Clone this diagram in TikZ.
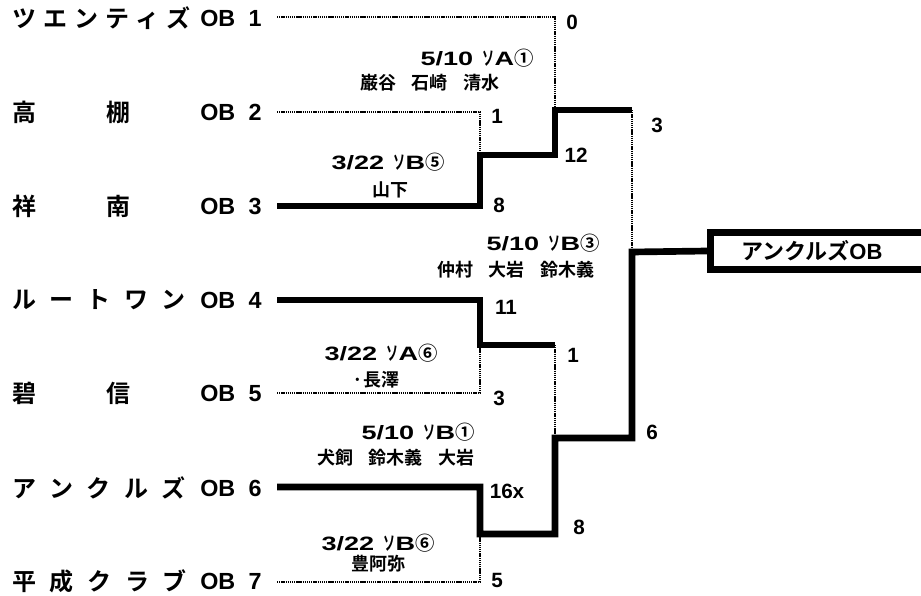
\documentclass[tikz,border=0pt]{standalone}
\usepackage{fontspec}
\usepackage{graphicx}
\setmainfont{Liberation Sans}
\newfontfamily\jp{Noto Sans CJK JP Bold}
\newfontfamily\lat{Liberation Sans}[UprightFont={* Bold}]
\newfontfamily\widelat{Liberation Sans}[UprightFont={* Bold}, FakeStretch=1.4]
\usetikzlibrary{positioning,calc}

\newcommand{\spreadname}[2]{\makebox[#1][s]{#2}}
\newcommand{\gamelabel}[3]{{\widelat #1}\hspace{7pt}\scalebox{0.62}[1]{\jp ソ}{\widelat #2}{\jp #3}}

\begin{document}
\begin{tikzpicture}[
    x=0.75pt, y=-0.75pt,
    team/.style={anchor=west, inner sep=0pt, font=\jp\fontsize{18}{18}\selectfont},
    ob/.style={anchor=west, inner sep=0pt, font=\lat\fontsize{17.5}{17.5}\selectfont},
    score/.style={inner sep=0pt, font=\lat\fontsize{15.5}{15.5}\selectfont},
    game/.style={inner sep=0pt, font=\fontsize{14.5}{14.5}\selectfont},
    players/.style={inner sep=0pt, font=\jp\fontsize{13.5}{13.5}\selectfont},
    win/.style={line width=5pt},
    lose/.style={line width=2pt, dash pattern=on 1pt off 0.6pt},
    champbox/.style={draw, line width=5pt, anchor=west, minimum height=28pt, inner xsep=23pt, text width=200pt, align=left, font=\fontsize{16.5}{16.5}\selectfont}
]
\useasboundingbox (0,0) rectangle (921,596);
\clip (0,0) rectangle (921,596);

% Teams
\node[team] (n1) at (12,18) {\spreadname{134pt}{ツ\hfill エ\hfill ン\hfill テ\hfill ィ\hfill ズ}};
\node[team] (n2) at (12,112) {\spreadname{89pt}{高\hfill 棚}};
\node[team] (n3) at (12,206) {\spreadname{89pt}{祥\hfill 南}};
\node[team] (n4) at (12,300) {\spreadname{130pt}{ル\hfill ー\hfill ト\hfill ワ\hfill ン}};
\node[team] (n5) at (12,393) {\spreadname{89pt}{碧\hfill 信}};
\node[team] (n6) at (12,488) {\spreadname{130pt}{ア\hfill ン\hfill ク\hfill ル\hfill ズ}};
\node[team] (n7) at (12,581) {\spreadname{131pt}{平\hfill 成\hfill ク\hfill ラ\hfill ブ}};

\node[ob] (ob1) at (200,18) {OB\hspace{10pt}1};
\node[ob] (ob2) at (200,112) {OB\hspace{10pt}2};
\node[ob] (ob3) at (200,206) {OB\hspace{10pt}3};
\node[ob] (ob4) at (200,300) {OB\hspace{10pt}4};
\node[ob] (ob5) at (200,393) {OB\hspace{10pt}5};
\node[ob] (ob6) at (200,488) {OB\hspace{10pt}6};
\node[ob] (ob7) at (200,581) {OB\hspace{10pt}7};

% Line starts and junctions
\coordinate (s1) at (277,17);
\coordinate (s2) at (277,112);
\coordinate (s3) at (277,206);
\coordinate (s4) at (277,300);
\coordinate (s5) at (277,393);
\coordinate (s6) at (277,487);
\coordinate (s7) at (277,582);
\coordinate (g23) at (480,155);
\coordinate (g45) at (480,345);
\coordinate (g67) at (480,534);
\coordinate (g1x) at (555,110);
\coordinate (g4x) at (555,438);
\coordinate (gf) at (632,252);

% Winner
\node[champbox] (champ) at (707,251) {{\jp アンクルズ}{\lat OB}};

% Bracket
\draw[lose] (s1) -| (g1x);
\draw[lose] (s2) -| (g23);
\draw[win] (s3) -| (g23) -| (g1x) -- (g1x -| gf);
\draw[lose] (g1x -| gf) -- (gf);
\draw[win] (s4) -| (g45) -- (g45 -| g4x);
\draw[lose] (s5) -| (g45);
\draw[lose] (g45 -| g4x) -- (g4x);
\draw[lose] (s7) -| (g67);
\draw[win] (s6) -| (g67) -| (g4x) -| (gf) -- (champ.west);

% Scores
\node[score] (sc1) at (572,22) {0};
\node[score] (sc2) at (497,116) {1};
\node[score] (sc3) at (499,205) {8};
\node[score] (sc23) at (576,155) {12};
\node[score] (sc4) at (506,307) {11};
\node[score] (sc5) at (499,398) {3};
\node[score] (sc45) at (573,355) {1};
\node[score] (sc6) at (507,491) {16x};
\node[score] (sc7) at (497,580) {5};
\node[score] (sc67) at (579,527) {8};
\node[score] (sctop) at (657,125) {3};
\node[score] (scbot) at (652,432) {6};

% Games
\node[game] (ga1) at (477,58) {\gamelabel{5/10}{A}{①}};
\node[players] (pl1) at (430,83) {巌谷\hspace{12pt}石崎\hspace{12pt}清水};
\node[game] (ga2) at (388,162) {\gamelabel{3/22}{B}{⑤}};
\node[players] (pl2) at (390,190) {山下};
\node[game] (ga3) at (543,243) {\gamelabel{5/10}{B}{③}};
\node[players] (pl3) at (516,270) {仲村\hspace{12pt}大岩\hspace{12pt}鈴木義};
\node[game] (ga4) at (381,353) {\gamelabel{3/22}{A}{⑥}};
\node[players] (pl4) at (376,380) {·長澤};
\node[game] (ga5) at (418,432) {\gamelabel{5/10}{B}{①}};
\node[players] (pl5) at (396,458) {犬飼\hspace{12pt}鈴木義\hspace{12pt}大岩};
\node[game] (ga6) at (378,543) {\gamelabel{3/22}{B}{⑥}};
\node[players] (pl6) at (378,564) {豊阿弥};

\end{tikzpicture}
\end{document}
